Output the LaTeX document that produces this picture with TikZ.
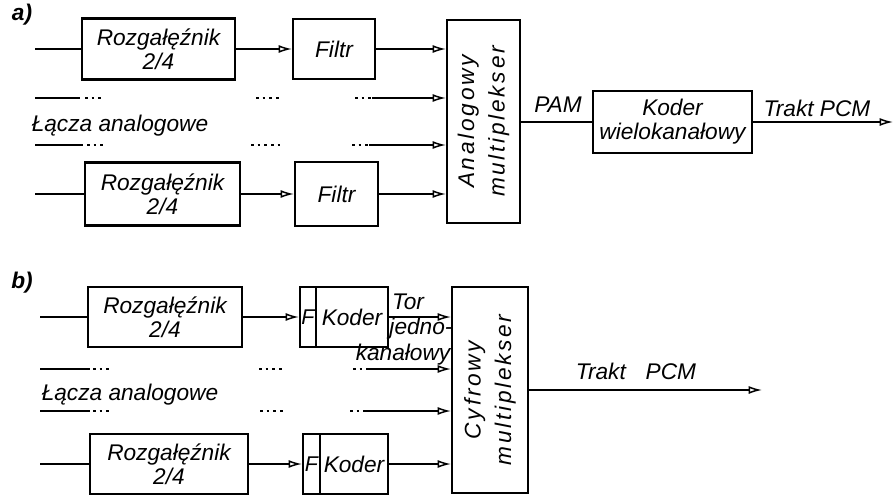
\documentclass[tikz,border=0pt]{standalone}
\usepackage{fontspec}
\setmainfont{Liberation Sans}
\newfontfamily\rozstrzel[LetterSpace=12]{Liberation Sans}
\usetikzlibrary{arrows.meta}

\tikzset{every picture/.style={line width=0.75pt}}
\tikzset{
  blok/.style={draw, line width=1.6pt, inner sep=0pt, align=center,
    font=\fontsize{17}{18}\selectfont\itshape},
  polaczenie/.style={line width=1.1pt},
  strzalka/.style={line width=1.1pt, -{Latex[open,length=10pt,width=6pt]}},
  opis/.style={inner sep=0pt, font=\fontsize{17}{18}\selectfont\itshape},
  kropki/.style={line width=1.5pt, dash pattern=on 2pt off 3pt}
}

\begin{document}
\begin{tikzpicture}[x=0.75pt,y=0.75pt,yscale=-1,xscale=1]
\useasboundingbox (0,0) rectangle (894,496);

% ---------------- a) ----------------
% Text Node
\node[opis, font=\fontsize{17}{18}\selectfont\bfseries\itshape] (lblA) at (22,15) {a)};

%Shape: Rectangle
\node[blok, minimum width=114.75pt, minimum height=45.75pt] (rozA1) at (158.5,49) {Rozgałęźnik\\2/4};
\node[blok, minimum width=61.5pt, minimum height=45pt] (filtrA1) at (334,49) {Filtr};
\node[blok, minimum width=116.25pt, minimum height=47.25pt] (rozA2) at (162.5,194) {Rozgałęźnik\\2/4};
\node[blok, minimum width=62.25pt, minimum height=48pt] (filtrA2) at (336.5,194) {Filtr};
\node[blok, minimum width=54.75pt, minimum height=152.25pt] (muxA) at (483.5,121.5) {};
\node[blok, rotate=90, draw=none, font=\rozstrzel\fontsize{17}{23}\selectfont\itshape] (muxAtxt) at (muxA.center) {Analogowy\\multiplekser};
\node[blok, minimum width=119.25pt, minimum height=46.5pt] (koderA) at (672.5,122) {Koder\\wielokanałowy};

\coordinate (weA1) at (35,49);
\coordinate (weA2) at (35,194);
\coordinate (kA1) at (372,98);
\coordinate (kA2) at (369,145);
\coordinate (wyA) at (893,122);

%Straight Lines
\draw[polaczenie] (weA1) -- (rozA1.west);
\draw[strzalka] (rozA1.east) -- (filtrA1.west);
\draw[strzalka] (filtrA1.east) -- (filtrA1.east -| muxA.west);
\draw[strzalka] (kA1) -- (kA1 -| muxA.west);
\draw[strzalka] (kA2) -- (kA2 -| muxA.west);
\draw[polaczenie] (weA2) -- (rozA2.west);
\draw[strzalka] (rozA2.east) -- (filtrA2.west);
\draw[strzalka] (filtrA2.east) -- (filtrA2.east -| muxA.west);
\draw[polaczenie] (muxA.east |- koderA.west) -- (koderA.west);
\draw[strzalka] (koderA.east) -- (wyA);
\draw[polaczenie] (35,98) -- (80,98);
\draw[polaczenie] (35,145) -- (83,145);

%Dotted Lines
\draw[kropki] (85,98) -- (101,98);
\draw[kropki] (256,98) -- (279,98);
\draw[kropki] (355,98) -- (371,98);
\draw[kropki] (87,145) -- (103,145);
\draw[kropki] (251,145) -- (280,145);
\draw[kropki] (352,145) -- (368,145);

% Text Node
\node[opis] (laczaA) at (120,126) {Łącza analogowe};
\node[opis] (pam) at (558,105) {PAM};
\node[opis] (traktA) at (817,108) {Trakt PCM};

% ---------------- b) ----------------
% Text Node
\node[opis, font=\fontsize{17}{18}\selectfont\bfseries\itshape] (lblB) at (22,283) {b)};

%Shape: Rectangle
\node[blok, minimum width=115.5pt, minimum height=45pt] (rozB1) at (165,317) {Rozgałęźnik\\2/4};
\node[blok, minimum width=12pt, minimum height=45pt, font=\fontsize{16}{17}\selectfont\itshape] (fB1) at (308,317) {F};
\node[blok, minimum width=54pt, minimum height=45pt] (koderB1) at (352,317) {Koder};
\node[blok, minimum width=118.5pt, minimum height=45pt] (rozB2) at (169,464) {Rozgałęźnik\\2/4};
\node[blok, minimum width=12.75pt, minimum height=45pt, font=\fontsize{16}{17}\selectfont\itshape] (fB2) at (311.5,464) {F};
\node[blok, minimum width=51pt, minimum height=45pt] (koderB2) at (354,464) {Koder};
\node[blok, minimum width=57pt, minimum height=154.5pt] (muxB) at (490,390) {};
\node[blok, rotate=90, draw=none, font=\rozstrzel\fontsize{17}{23}\selectfont\itshape] (muxBtxt) at (muxB.center) {Cyfrowy\\multiplekser};

\coordinate (weB1) at (40,317);
\coordinate (weB2) at (40,464);
\coordinate (kB1) at (369,369);
\coordinate (kB2) at (366,411);
\coordinate (wyB) at (762,390);

%Straight Lines
\draw[polaczenie] (weB1) -- (rozB1.west);
\draw[strzalka] (rozB1.east) -- (fB1.west);
\draw[strzalka] (koderB1.east) -- (koderB1.east -| muxB.west);
\draw[strzalka] (kB1) -- (kB1 -| muxB.west);
\draw[strzalka] (kB2) -- (kB2 -| muxB.west);
\draw[polaczenie] (weB2) -- (rozB2.west);
\draw[strzalka] (rozB2.east) -- (fB2.west);
\draw[strzalka] (koderB2.east) -- (koderB2.east -| muxB.west);
\draw[strzalka] (muxB.east |- wyB) -- (wyB);
\draw[polaczenie] (40,369) -- (90,369);
\draw[polaczenie] (40,411) -- (90,411);

%Dotted Lines
\draw[kropki] (93,369) -- (109,369);
\draw[kropki] (259,369) -- (282,369);
\draw[kropki] (353,369) -- (369,369);
\draw[kropki] (93,411) -- (109,411);
\draw[kropki] (260,411) -- (283,411);
\draw[kropki] (350,411) -- (366,411);

% Text Node
\node[opis] (laczaB) at (130,395) {Łącza analogowe};
\node[opis] (tor) at (408,302) {Tor};
\node[opis] (jedno) at (421,329) {jedno-};
\node[opis] (kanalowy) at (403,355) {kanałowy};
\node[opis] (traktB) at (636,371) {Trakt\hspace{0.6em} PCM};

\end{tikzpicture}
\end{document}
